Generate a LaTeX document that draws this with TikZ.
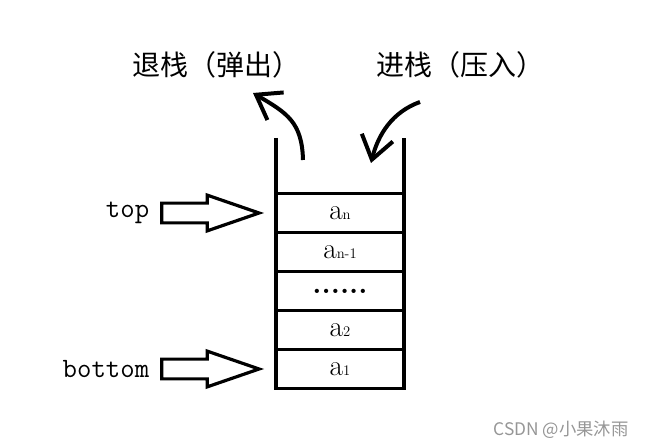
\documentclass[tikz,border=0pt]{standalone}
\usepackage{fontspec}
\newfontfamily\cjk{Noto Sans CJK SC}
\usetikzlibrary{positioning,shapes.arrows,arrows.meta}
\definecolor{wmgray}{RGB}{150,150,150}

\tikzset{
  cell/.style={draw,line width=2.6pt,minimum width=96pt,minimum height=29.25pt,inner sep=0pt,outer sep=0pt},
  wall/.style={line width=2.6pt},
  fatarrow/.style={single arrow,draw,line width=2.4pt,inner xsep=0pt,inner ysep=6.2pt,
    single arrow head extend=6pt,single arrow tip angle=38,minimum height=73pt},
  curvy/.style={line width=3pt,-{Straight Barb[length=17pt,width=24pt]}},
  title/.style={font=\cjk\fontsize{21}{21}\selectfont},
  lbl/.style={font=\ttfamily\fontsize{21}{21}\selectfont,inner sep=0pt},
}
\newcommand{\elem}[1]{{\fontsize{22}{22}\selectfont a}{\fontsize{11}{11}\selectfont #1}}

\begin{document}
\begin{tikzpicture}[x=0.75pt,y=-0.75pt]
  \useasboundingbox (0,0) rectangle (645,448);
  % titles
  \node[title] (pop) at (216,65) {退栈（弹出）};
  \node[title] (push) at (460,65) {进栈（压入）};
  % stack cells
  \node[cell] (an) at (340,213) {\elem{n}};
  \node[cell,below=0pt of an] (an1) {\elem{n-1}};
  \node[cell,below=0pt of an1] (dots) {\bfseries\fontsize{22}{22}\selectfont ......};
  \node[cell,below=0pt of dots] (a2) {\elem{2}};
  \node[cell,below=0pt of a2] (a1) {\elem{1}};
  \coordinate (wallL) at (276,138);
  \coordinate (wallR) at (404,138);
  \draw[wall] (wallL) -- (a1.south west) -- (a1.south east) -- (wallR);
  % pointers
  \node[fatarrow,left=9pt of an] (toparr) {};
  \node[lbl,left=8pt of toparr] (top) {top};
  \node[fatarrow,left=9pt of a1] (botarr) {};
  \node[lbl,left=8pt of botarr] (bottom) {bottom};
  % pop and push
  \coordinate (popstart) at (303,160);
  \coordinate (popend) at (253,93);
  \draw[curvy] (popstart) .. controls (302,122) and (287,113) .. (popend);
  \coordinate (pushstart) at (420,102);
  \coordinate (pushend) at (371,163);
  \draw[curvy] (pushstart) .. controls (392,112) and (378,135) .. (pushend);
  % watermark
  \node[font=\cjk\fontsize{13}{13}\selectfont,text=wmgray] (wm) at (561,430) {CSDN @小果沐雨};
\end{tikzpicture}
\end{document}
